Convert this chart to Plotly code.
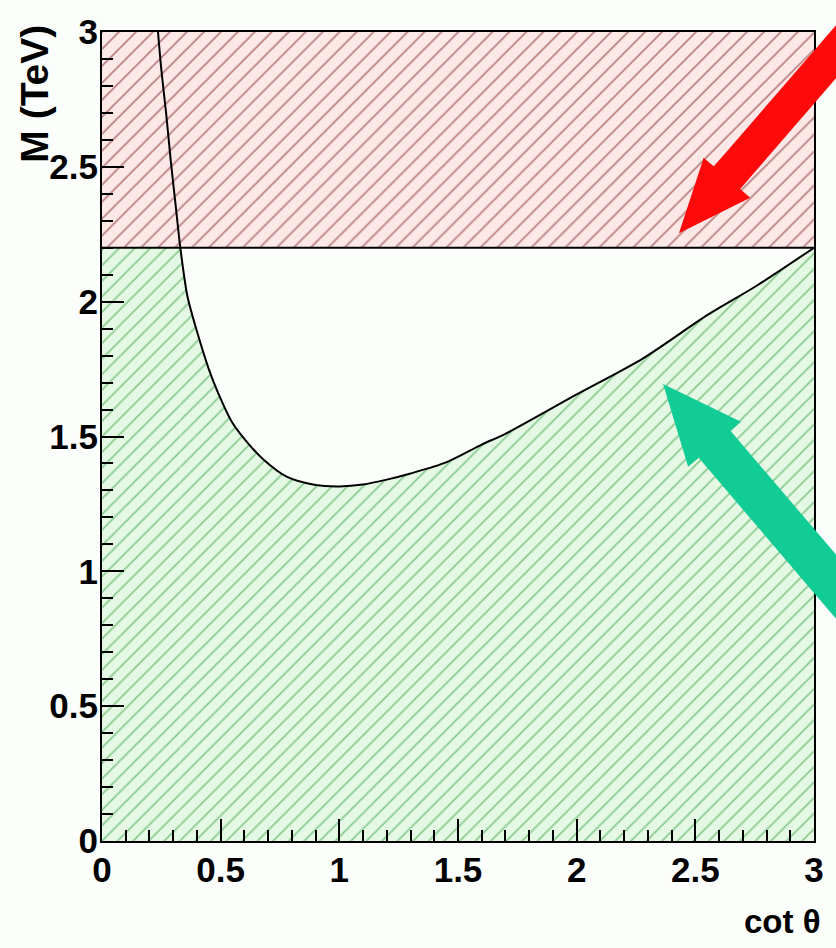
import plotly.graph_objects as go

# Exclusion curve: mass limit (TeV) versus cot(theta)
cot_theta = [0.236, 0.25, 0.27, 0.29, 0.31, 0.33, 0.36, 0.40, 0.45, 0.49, 0.55,
             0.62, 0.68, 0.78, 0.90, 1.00, 1.10, 1.20, 1.30, 1.45, 1.60, 1.70,
             2.00, 2.28, 2.55, 2.76, 3.00]
mass_limit = [3.00, 2.86, 2.70, 2.52, 2.36, 2.20, 2.02, 1.89, 1.75, 1.66, 1.55,
              1.47, 1.415, 1.35, 1.32, 1.315, 1.322, 1.34, 1.363, 1.404, 1.47, 1.51,
              1.656, 1.79, 1.95, 2.06, 2.20]

# Horizontal bound and axis ranges
upper_bound = 2.2
x_range = [0, 3]
y_range = [0, 3]
x_ticks = [0, 0.5, 1, 1.5, 2, 2.5, 3]
y_ticks = [0, 0.5, 1, 1.5, 2, 2.5, 3]
tick_text = ["0", "0.5", "1", "1.5", "2", "2.5", "3"]

# Plot-area geometry in pixels
FIG_W, FIG_H = 836, 948
M_L, M_R, M_T, M_B = 102, 17, 25, 107
PW = FIG_W - M_L - M_R
PH = FIG_H - M_T - M_B

FONT = "Liberation Sans, Arial, Helvetica, sans-serif"

RED_BG, RED_FG = "#fde8e8", "#7e2424"
GREEN_BG, GREEN_FG = "#e4f8e4", "#2f9e3c"

fig = go.Figure()

# Red hatched band above the horizontal bound
fig.add_trace(go.Scatter(
    x=[x_range[0], x_range[1], x_range[1], x_range[0], x_range[0]],
    y=[upper_bound, upper_bound, y_range[1], y_range[1], upper_bound],
    mode="lines", line=dict(width=0), fill="toself",
    fillcolor=RED_BG,
    fillpattern=dict(shape="/", bgcolor=RED_BG, fgcolor=RED_FG,
                     size=12, solidity=0.16),
    hoverinfo="skip", showlegend=False))

# Green hatched region: flat part left of where the curve meets the bound ...
below = [i for i, m in enumerate(mass_limit) if m <= upper_bound]
first = below[0]
green_pattern = dict(shape="/", bgcolor=GREEN_BG, fgcolor=GREEN_FG,
                     size=11, solidity=0.16)
fig.add_trace(go.Scatter(
    x=[x_range[0], cot_theta[first]], y=[upper_bound, upper_bound],
    mode="lines", line=dict(width=0), fill="tozeroy", fillcolor=GREEN_BG,
    fillpattern=green_pattern, hoverinfo="skip", showlegend=False))

# ... and the part under the curve
fig.add_trace(go.Scatter(
    x=[cot_theta[i] for i in below], y=[mass_limit[i] for i in below],
    mode="lines", line=dict(width=0, shape="spline", smoothing=0.8),
    fill="tozeroy", fillcolor=GREEN_BG,
    fillpattern=green_pattern, hoverinfo="skip", showlegend=False))

# Bound line
fig.add_trace(go.Scatter(
    x=x_range, y=[upper_bound, upper_bound], mode="lines",
    line=dict(color="black", width=2), hoverinfo="skip", showlegend=False))

# Limit curve
fig.add_trace(go.Scatter(
    x=cot_theta, y=mass_limit, mode="lines",
    line=dict(color="black", width=2, shape="spline", smoothing=0.8),
    hoverinfo="skip", showlegend=False))


def to_paper(px, py):
    return (px - M_L) / PW, (FIG_H - M_B - py) / PH


def arrow_path(tip, tail, shaft_w, head_w, head_len):
    tx, ty = tip
    dx, dy = tail[0] - tx, tail[1] - ty
    n = (dx * dx + dy * dy) ** 0.5
    ux, uy = dx / n, dy / n
    nx, ny = -uy, ux
    bx, by = tx + ux * head_len, ty + uy * head_len
    pts = [
        (tx, ty),
        (bx + nx * head_w / 2, by + ny * head_w / 2),
        (bx + nx * shaft_w / 2, by + ny * shaft_w / 2),
        (tail[0] + nx * shaft_w / 2, tail[1] + ny * shaft_w / 2),
        (tail[0] - nx * shaft_w / 2, tail[1] - ny * shaft_w / 2),
        (bx - nx * shaft_w / 2, by - ny * shaft_w / 2),
        (bx - nx * head_w / 2, by - ny * head_w / 2),
    ]
    pp = [to_paper(x, y) for x, y in pts]
    return "M " + " L ".join(f"{x:.5f},{y:.5f}" for x, y in pp) + " Z"


# Pointer arrows (pixel geometry)
arrows = [
    dict(tip=(683, 228), tail=(880, 0), shaft_w=35, head_w=62, head_len=74,
         color="#ff0a0a"),
    dict(tip=(667, 380), tail=(880, 630), shaft_w=42, head_w=70, head_len=80,
         color="#12cc96"),
]
shapes = []
for a in arrows:
    shapes.append(dict(type="path", xref="paper", yref="paper",
                       path=arrow_path(a["tip"], a["tail"], a["shaft_w"],
                                       a["head_w"], a["head_len"]),
                       fillcolor=a["color"], line=dict(width=0),
                       layer="above"))

axis_common = dict(
    showgrid=False, zeroline=False, showline=True, linecolor="black",
    linewidth=2, mirror=True, ticks="inside", ticklen=22, tickwidth=2,
    tickcolor="black",
    tickfont=dict(family=FONT, size=35, color="black", weight="bold"),
    minor=dict(dtick=0.1, ticks="inside", ticklen=11, tickwidth=2,
               tickcolor="black", showgrid=False),
)

fig.update_layout(
    width=FIG_W, height=FIG_H,
    margin=dict(l=M_L, r=M_R, t=M_T, b=M_B, pad=0),
    paper_bgcolor="#fbfefb", plot_bgcolor="#fbfefb",
    showlegend=False,
    xaxis=dict(range=x_range, tickvals=x_ticks, ticktext=tick_text,
               ticklabelstandoff=-3, **axis_common),
    yaxis=dict(range=y_range, tickvals=y_ticks, ticktext=tick_text,
               ticklabelstandoff=-5, **axis_common),
    shapes=shapes,
    annotations=[
        dict(text="M (TeV)", xref="paper", yref="paper", x=-0.095, y=1.012,
             xanchor="center", yanchor="top", textangle=-90, showarrow=False,
             font=dict(family=FONT, size=39, color="black", weight="bold")),
        dict(text="cot θ", xref="paper", yref="paper", x=1.013, y=-0.0993,
             xanchor="right", yanchor="middle", showarrow=False,
             font=dict(family=FONT, size=33, color="black", weight="bold")),
    ],
)

fig.write_html("out.html")
